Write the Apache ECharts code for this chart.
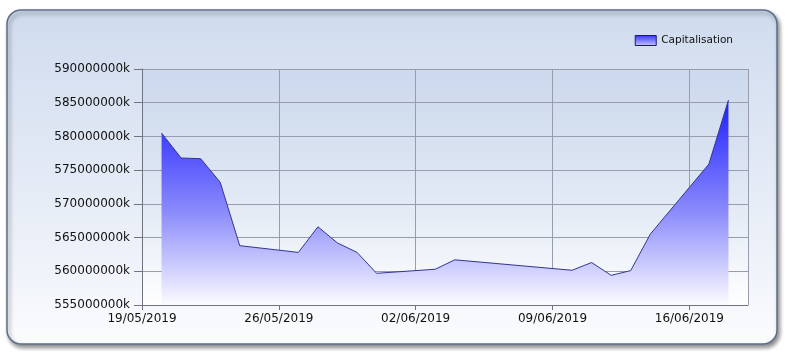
<!DOCTYPE html>
<html><head><meta charset="utf-8">
<script src="https://cdn.jsdelivr.net/npm/echarts@6/dist/echarts.min.js"></script>
<style>html,body{margin:0;padding:0;background:#fff;}#c{width:788px;height:361px;}</style>
</head><body><div id="c"></div>
<script>
var dates = ['20/05/2019','21/05/2019','22/05/2019','23/05/2019','24/05/2019','27/05/2019','28/05/2019','29/05/2019','30/05/2019','31/05/2019','03/06/2019','04/06/2019','10/06/2019','11/06/2019','12/06/2019','13/06/2019','14/06/2019','17/06/2019','18/06/2019'];
var capitalisation = [580500000,576800000,576700000,573200000,563800000,562800000,566600000,564200000,562800000,559700000,560300000,561700000,560150000,561300000,559400000,560100000,565500000,575900000,585400000];
var axisStart = '19/05/2019';
var axisEndDays = 31;
var yMin = 555000000, yMax = 590000000, yStep = 5000000;

function parseD(s){var p=s.split('/');return Date.UTC(+p[2],+p[1]-1,+p[0]);}
var t0 = parseD(axisStart);
function dayOff(s){return Math.round((parseD(s)-t0)/86400000);}
function fmtDay(v){var d=new Date(t0+v*86400000);function z(n){return (n<10?'0':'')+n;}return z(d.getUTCDate())+'/'+z(d.getUTCMonth()+1)+'/'+d.getUTCFullYear();}
var pts = dates.map(function(d,i){return [dayOff(d), capitalisation[i]];});

var chart = echarts.init(document.getElementById('c'));
var FONT = 'DejaVu Sans';
chart.setOption({
  animation:false,
  graphic:[{type:'rect',z:-10,shape:{x:7,y:10,width:770,height:334,r:14},
    style:{fill:new echarts.graphic.LinearGradient(0,0,0,1,[{offset:0,color:'#cfdbee'},{offset:0.75,color:'#eef2f9'},{offset:1,color:'#fbfcfe'}]),
      stroke:'#5d6e8c',lineWidth:1.5,shadowBlur:4,shadowOffsetX:2,shadowOffsetY:3,shadowColor:'rgba(0,0,0,0.45)'}}],
  legend:{right:50,top:30,icon:'rect',itemWidth:21,itemHeight:10,itemGap:5,
    textStyle:{fontFamily:FONT,fontSize:10.5,color:'#111'},
    data:[{name:'Capitalisation',itemStyle:{color:new echarts.graphic.LinearGradient(0,0,0,1,[{offset:0,color:'#3030ff'},{offset:1,color:'#c8c8ff'}]),borderColor:'#1a1a70',borderWidth:1}}]},
  grid:{left:142,right:40,top:69,bottom:56,show:true,borderWidth:0,
    backgroundColor:new echarts.graphic.LinearGradient(0,0,0,1,[{offset:0,color:'rgba(185,203,230,0.35)'},{offset:1,color:'rgba(255,255,255,0.95)'}])},
  xAxis:{type:'value',min:0,max:axisEndDays,interval:7,
    axisLine:{show:true,lineStyle:{color:'#6f7480',width:1}},
    axisTick:{show:true,length:5,lineStyle:{color:'#6f7480'}},
    axisLabel:{formatter:function(v){return fmtDay(v);},fontFamily:FONT,fontSize:12,color:'#111',margin:8},
    splitLine:{show:true,lineStyle:{color:'#979dac',width:1}}},
  yAxis:{type:'value',min:yMin,max:yMax,interval:yStep,
    axisLine:{show:true,lineStyle:{color:'#6f7480',width:1}},
    axisTick:{show:true,length:8,lineStyle:{color:'#6f7480'}},
    axisLabel:{formatter:function(v){return v+'k';},fontFamily:FONT,fontSize:12,color:'#111',margin:12},
    splitLine:{show:true,lineStyle:{color:'#979dac',width:1}}},
  series:[{name:'Capitalisation',type:'line',data:pts,showSymbol:false,
    lineStyle:{color:'#35358f',width:1},itemStyle:{color:'#3030ff'},
    areaStyle:{opacity:1,color:new echarts.graphic.LinearGradient(0,0,0,1,[{offset:0,color:'#1e1eff'},{offset:0.55,color:'#8c8cfb'},{offset:1,color:'#fbfbff'}])}}]
});
</script></body></html>
